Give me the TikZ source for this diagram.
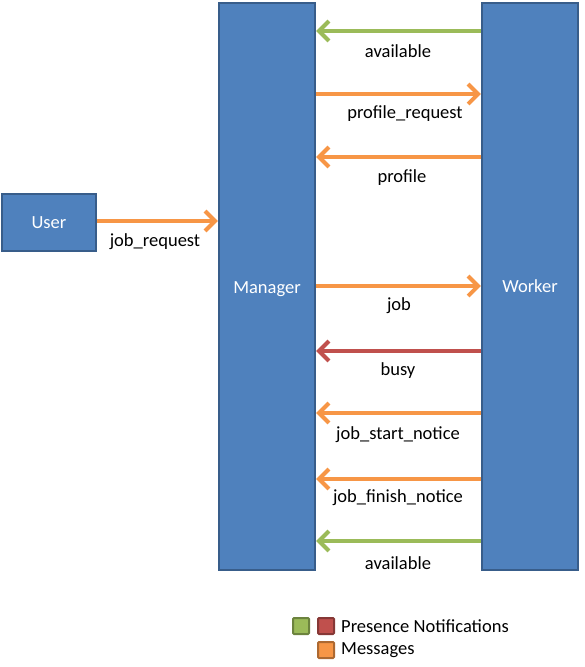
\documentclass[tikz,border=0pt]{standalone}
\usepackage{fontspec}
\setmainfont{Carlito}
\usetikzlibrary{arrows.meta}
\definecolor{boxfill}{HTML}{4F81BD}
\definecolor{boxline}{HTML}{385D8A}
\definecolor{msg}{HTML}{F79646}
\definecolor{pres}{HTML}{9BBB59}
\definecolor{busyc}{HTML}{C0504D}
\tikzset{
  ent/.style={draw=boxline, line width=2.2pt, fill=boxfill, text=white, font=\fontsize{18.5}{22}\selectfont, inner sep=0pt},
  conn/.style={line width=4pt, -{Straight Barb[length=10pt,width=20pt,line width=4pt]}},
  lbl/.style={font=\fontsize{18.5}{22}\selectfont, text=black},
  legsq/.style={draw=#1!70!black, fill=#1, line width=2pt, minimum size=16pt, inner sep=0pt, rounded corners=1pt},
}
\begin{document}
\begin{tikzpicture}[x=1pt,y=-1pt]
\useasboundingbox (0,0) rectangle (584,667);
\node[ent, minimum width=96pt, minimum height=567pt] (mgr) at (267,286.5) {\raisebox{-7pt}[0pt][0pt]{Manager}};
\node[ent, minimum width=96pt, minimum height=567pt] (wrk) at (530,286.5) {\raisebox{-6pt}[0pt][0pt]{Worker}};
\node[ent, minimum width=94pt, minimum height=57pt] (usr) at (49,222.5) {User};
% connector endpoints
\coordinate (w1) at (wrk.west |- 0,31);
\coordinate (m1) at (mgr.east |- 0,31);
\coordinate (w2) at (wrk.west |- 0,94);
\coordinate (m2) at (mgr.east |- 0,94);
\coordinate (w3) at (wrk.west |- 0,157);
\coordinate (m3) at (mgr.east |- 0,157);
\coordinate (mU) at (mgr.west |- 0,221);
\coordinate (uU) at (usr.east |- 0,221);
\coordinate (w4) at (wrk.west |- 0,286);
\coordinate (m4) at (mgr.east |- 0,286);
\coordinate (w5) at (wrk.west |- 0,351);
\coordinate (m5) at (mgr.east |- 0,351);
\coordinate (w6) at (wrk.west |- 0,413);
\coordinate (m6) at (mgr.east |- 0,413);
\coordinate (w7) at (wrk.west |- 0,479);
\coordinate (m7) at (mgr.east |- 0,479);
\coordinate (w8) at (wrk.west |- 0,541);
\coordinate (m8) at (mgr.east |- 0,541);
\draw[conn, pres] (w1) -- (m1);
\draw[conn, msg] (m2) -- (w2);
\draw[conn, msg] (w3) -- (m3);
\draw[conn, msg] (uU) -- (mU);
\draw[conn, msg] (m4) -- (w4);
\draw[conn, busyc] (w5) -- (m5);
\draw[conn, msg] (w6) -- (m6);
\draw[conn, msg] (w7) -- (m7);
\draw[conn, pres] (w8) -- (m8);
\node[lbl] (l1) at (398,51) {available};
\node[lbl] (l2) at (405,114) {profile\_request};
\node[lbl] (l3) at (402,178) {profile};
\node[lbl] (lu) at (155,242) {job\_request};
\node[lbl] (l4) at (399,306) {job};
\node[lbl] (l5) at (398,371) {busy};
\node[lbl] (l6) at (398,435) {job\_start\_notice};
\node[lbl] (l7) at (398,498) {job\_finish\_notice};
\node[lbl] (l8) at (398,563) {available};
% legend
\node[legsq=pres] (sg) at (301,626) {};
\node[legsq=busyc] (sr) at (326,626) {};
\node[legsq=msg] (so) at (326,650) {};
\node[lbl, anchor=west, inner sep=0pt] (tp) at (341,626) {Presence Notifications};
\node[lbl, anchor=west, inner sep=0pt] (tm) at (341,650) {Messages};
\end{tikzpicture}
\end{document}
